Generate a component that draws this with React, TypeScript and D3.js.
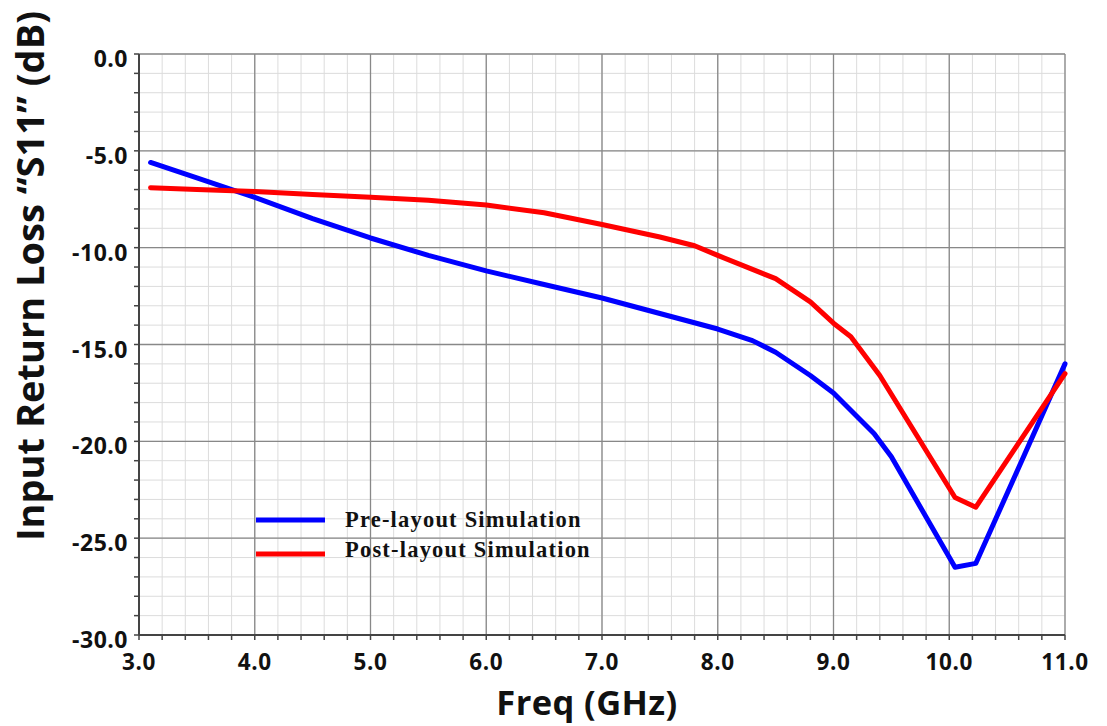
import React from "react";
import * as d3 from "d3";

const preFreq = [3.1, 3.5, 4.0, 4.5, 5.0, 5.5, 6.0, 6.5, 7.0, 7.5, 8.0, 8.3, 8.5, 8.8, 9.0, 9.35, 9.5, 10.05, 10.23, 11.0];
const preS11 = [-5.6, -6.4, -7.4, -8.5, -9.5, -10.4, -11.2, -11.9, -12.6, -13.4, -14.2, -14.8, -15.4, -16.6, -17.5, -19.6, -20.8, -26.5, -26.3, -16.0];
const postFreq = [3.1, 3.5, 4.0, 4.5, 5.0, 5.5, 6.0, 6.5, 7.0, 7.5, 7.8, 8.0, 8.5, 8.8, 9.0, 9.15, 9.4, 10.05, 10.23, 11.0];
const postS11 = [-6.9, -7.0, -7.1, -7.25, -7.4, -7.55, -7.8, -8.2, -8.8, -9.45, -9.9, -10.4, -11.6, -12.8, -13.9, -14.6, -16.6, -22.9, -23.4, -16.5];
const xTicks = [3, 4, 5, 6, 7, 8, 9, 10, 11];
const yTicks = [0, -5, -10, -15, -20, -25, -30];
const seriesNames = ["Pre-layout Simulation", "Post-layout Simulation"];
const seriesColors = ["#0000ff", "#ff0000"];

export default function App() {
  const W = 1107, H = 726;
  const x = d3.scaleLinear().domain([3, 11]).range([139, 1065]);
  const y = d3.scaleLinear().domain([0, -30]).range([54, 635]);
  const minorX = d3.range(3, 11.0001, 0.2);
  const minorY = d3.range(0, -30.0001, -1);
  const line = d3.line<[number, number]>().x(d => x(d[0])).y(d => y(d[1]));
  const pre = preFreq.map((f, i) => [f, preS11[i]] as [number, number]);
  const post = postFreq.map((f, i) => [f, postS11[i]] as [number, number]);
  const sans = "'Open Sans', 'Noto Sans', sans-serif";
  const legendY = [520, 554];
  const legendTextY = [527, 557];
  return (
    <svg width={W} height={H} style={{ position: "absolute", left: 0, top: 0, background: "#fff" }}>
      <rect width={W} height={H} fill="#fff" />
      {minorX.map((v, i) => (
        <line key={"mx" + i} x1={x(v)} x2={x(v)} y1={y(0)} y2={y(-30)} stroke="#dcdcdc" strokeWidth={1} />
      ))}
      {minorY.map((v, i) => (
        <line key={"my" + i} x1={x(3)} x2={x(11)} y1={y(v)} y2={y(v)} stroke="#dcdcdc" strokeWidth={1} />
      ))}
      {xTicks.map(v => (
        <line key={"Mx" + v} x1={x(v)} x2={x(v)} y1={y(0)} y2={y(-30)} stroke="#888" strokeWidth={1.3} />
      ))}
      {yTicks.map(v => (
        <line key={"My" + v} x1={x(3)} x2={x(11)} y1={y(v)} y2={y(v)} stroke="#888" strokeWidth={1.3} />
      ))}
      <line x1={x(3)} x2={x(3)} y1={y(0)} y2={y(-30)} stroke="#444" strokeWidth={2} />
      <line x1={x(3)} x2={x(11)} y1={y(-30)} y2={y(-30)} stroke="#444" strokeWidth={2} />
      {minorX.map((v, i) => (
        <line key={"tx" + i} x1={x(v)} x2={x(v)} y1={y(-30)} y2={y(-30) + 5} stroke="#444" strokeWidth={1.5} />
      ))}
      {minorY.map((v, i) => (
        <line key={"ty" + i} x1={x(3) - 5} x2={x(3)} y1={y(v)} y2={y(v)} stroke="#444" strokeWidth={1.5} />
      ))}
      {xTicks.map(v => (
        <text key={"lx" + v} x={x(v)} y={670} textAnchor="middle" fontFamily={sans} fontWeight="bold" fontSize={22.5} letterSpacing={0.6} fill="#111">
          {v.toFixed(1)}
        </text>
      ))}
      {yTicks.map(v => (
        <text key={"ly" + v} x={128} y={y(v) + 13} textAnchor="end" fontFamily={sans} fontWeight="bold" fontSize={23} letterSpacing={0.5} fill="#111">
          {v.toFixed(1)}
        </text>
      ))}
      <path d={line(pre) || ""} fill="none" stroke={seriesColors[0]} strokeWidth={5} strokeLinejoin="round" strokeLinecap="round" />
      <path d={line(post) || ""} fill="none" stroke={seriesColors[1]} strokeWidth={5} strokeLinejoin="round" strokeLinecap="round" />
      {seriesNames.map((n, i) => (
        <g key={n}>
          <line x1={256} x2={325} y1={legendY[i]} y2={legendY[i]} stroke={seriesColors[i]} strokeWidth={5} />
          <text x={345} y={legendTextY[i]} fontFamily="'Liberation Serif', serif" fontWeight="bold" fontSize={22.5} letterSpacing={1.2} fill="#111">
            {n}
          </text>
        </g>
      ))}
      <text x={587} y={715} textAnchor="middle" fontFamily={sans} fontWeight="bold" fontSize={34.5} letterSpacing={0.4} fill="#111">
        Freq (GHz)
      </text>
      <text transform="translate(44,276) rotate(-90)" textAnchor="middle" fontFamily={sans} fontWeight="bold" fontSize={38} fill="#111">
        Input Return Loss “S11” (dB)
      </text>
    </svg>
  );
}
